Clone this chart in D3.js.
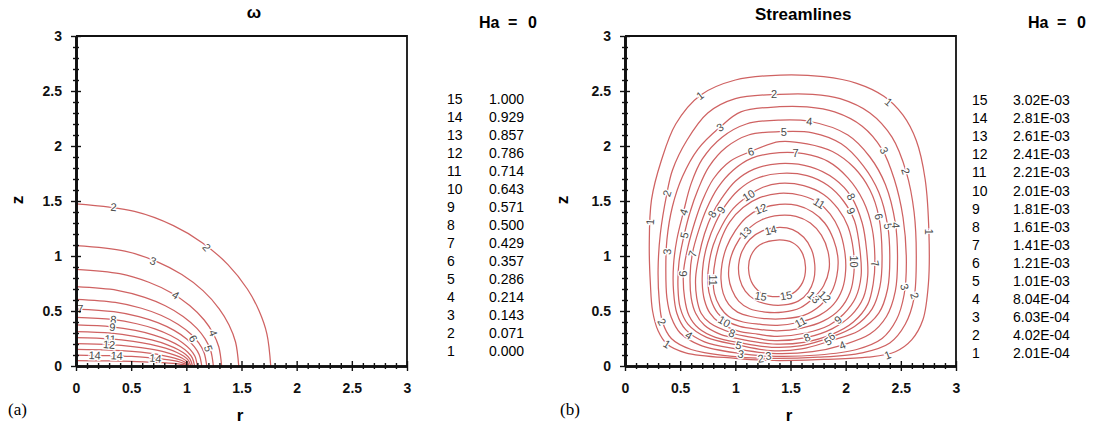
<!DOCTYPE html>
<html>
<head>
<meta charset="utf-8">
<script src="https://cdn.jsdelivr.net/npm/d3@7"></script>
<style>
  html, body { margin: 0; padding: 0; background: #fff; }
  svg { display: block; }
  text { font-family: Arial, "Liberation Sans", sans-serif; }
</style>
</head>
<body>
<svg id="fig" width="1093" height="426"></svg>
<script>
// ---- tick labels -------------------------------------------------------
const majorTicks = [0, 0.5, 1, 1.5, 2, 2.5, 3];

// ---- contour levels (legend tables) -------------------------------------
const levelIds = [15, 14, 13, 12, 11, 10, 9, 8, 7, 6, 5, 4, 3, 2, 1];
const omegaValues = ["1.000", "0.929", "0.857", "0.786", "0.714", "0.643", "0.571",
  "0.500", "0.429", "0.357", "0.286", "0.214", "0.143", "0.071", "0.000"];
const psiValues = ["3.02E-03", "2.81E-03", "2.61E-03", "2.41E-03", "2.21E-03", "2.01E-03",
  "1.81E-03", "1.61E-03", "1.41E-03", "1.21E-03", "1.01E-03", "8.04E-04", "6.03E-04",
  "4.02E-04", "2.01E-04"];

// ---- angular velocity contours, [r, z] from the axis to the disk plane --
const omegaLines = [
  { level: 2,  pts: [[0,1.473],[0.53,1.405],[0.883,1.276],[1.147,1.119],[1.377,0.922],[1.553,0.700],[1.659,0.502],[1.730,0.293],[1.765,0]] },
  { level: 3,  pts: [[0,1.094],[0.443,1.044],[0.738,0.947],[0.959,0.831],[1.151,0.685],[1.298,0.520],[1.387,0.373],[1.446,0.218],[1.475,0]] },
  { level: 4,  pts: [[0,0.879],[0.396,0.839],[0.66,0.761],[0.858,0.668],[1.03,0.550],[1.162,0.418],[1.241,0.300],[1.294,0.175],[1.32,0]] },
  { level: 5,  pts: [[0,0.721],[0.374,0.688],[0.623,0.624],[0.809,0.548],[0.971,0.451],[1.096,0.342],[1.170,0.246],[1.220,0.143],[1.245,0]] },
  { level: 6,  pts: [[0,0.606],[0.356,0.578],[0.593,0.525],[0.770,0.461],[0.924,0.379],[1.043,0.288],[1.114,0.207],[1.161,0.121],[1.185,0]] },
  { level: 7,  pts: [[0,0.518],[0.342,0.494],[0.57,0.449],[0.741,0.394],[0.889,0.324],[1.003,0.246],[1.072,0.177],[1.117,0.103],[1.14,0]] },
  { level: 8,  pts: [[0,0.443],[0.33,0.423],[0.55,0.384],[0.715,0.337],[0.858,0.277],[0.968,0.210],[1.034,0.151],[1.078,0.088],[1.10,0]] },
  { level: 9,  pts: [[0,0.373],[0.323,0.356],[0.538,0.323],[0.699,0.283],[0.839,0.233],[0.946,0.177],[1.011,0.127],[1.054,0.074],[1.075,0]] },
  { level: 10, pts: [[0,0.312],[0.317,0.298],[0.528,0.270],[0.686,0.237],[0.823,0.195],[0.928,0.148],[0.992,0.106],[1.034,0.062],[1.055,0]] },
  { level: 11, pts: [[0,0.258],[0.312,0.246],[0.52,0.223],[0.676,0.196],[0.811,0.162],[0.915,0.123],[0.978,0.088],[1.019,0.051],[1.04,0]] },
  { level: 12, pts: [[0,0.204],[0.308,0.195],[0.513,0.177],[0.666,0.155],[0.80,0.128],[0.902,0.097],[0.964,0.070],[1.005,0.041],[1.025,0]] },
  { level: 13, pts: [[0,0.152],[0.305,0.145],[0.508,0.132],[0.66,0.116],[0.792,0.095],[0.893,0.072],[0.954,0.052],[0.995,0.030],[1.015,0]] },
  { level: 14, pts: [[0,0.100],[0.302,0.095],[0.504,0.087],[0.655,0.076],[0.786,0.063],[0.887,0.048],[0.948,0.034],[0.988,0.020],[1.008,0]] },
  { level: 15, pts: [[0,0.048],[0.30,0.046],[0.50,0.042],[0.65,0.036],[0.78,0.030],[0.88,0.023],[0.94,0.016],[0.98,0.010],[1.0,0]] }
];

const omegaLabels = [
  { t: "2", r: 0.34, z: 1.445, a: 4 },   { t: "2", r: 1.185, z: 1.08, a: 50 },
  { t: "3", r: 0.70, z: 0.955, a: 18 },  { t: "4", r: 0.904, z: 0.645, a: 32 },
  { t: "4", r: 1.245, z: 0.30, a: 70 },  { t: "5", r: 1.20, z: 0.16, a: 72 },
  { t: "6", r: 1.063, z: 0.25, a: 58 },  { t: "7", r: 0.04, z: 0.518, a: 0 },
  { t: "8", r: 0.34, z: 0.422, a: 5 },   { t: "9", r: 0.33, z: 0.355, a: 5 },
  { t: "11", r: 0.31, z: 0.246, a: 4 },  { t: "12", r: 0.30, z: 0.195, a: 4 },
  { t: "14", r: 0.17, z: 0.098, a: 2 },  { t: "14", r: 0.37, z: 0.094, a: 3 },
  { t: "14", r: 0.72, z: 0.07, a: 6 }
];

// ---- streamlines, closed loops of [r, z] --------------------------------
const psiLines = [
  { level: 1,  pts: [[1.41,2.645],[1.0,2.60],[0.68,2.46],[0.46,2.20],[0.33,1.87],[0.24,1.51],[0.22,1.10],[0.23,0.75],[0.25,0.50],[0.30,0.32],[0.38,0.20],[0.55,0.12],[1.0,0.07],[1.35,0.05],[1.8,0.06],[2.2,0.08],[2.45,0.13],[2.60,0.24],[2.70,0.42],[2.75,0.75],[2.755,1.2],[2.72,1.7],[2.64,2.05],[2.52,2.28],[2.35,2.45],[2.1,2.57],[1.8,2.63]] },
  { level: 2,  pts: [[1.40,2.47],[1.0,2.43],[0.75,2.30],[0.56,2.05],[0.43,1.78],[0.38,1.57],[0.32,1.20],[0.30,0.88],[0.31,0.60],[0.34,0.40],[0.42,0.25],[0.60,0.15],[0.95,0.09],[1.25,0.07],[1.75,0.08],[2.15,0.12],[2.40,0.21],[2.54,0.38],[2.62,0.62],[2.64,1.0],[2.62,1.40],[2.55,1.76],[2.42,2.08],[2.22,2.30],[1.95,2.43],[1.70,2.47]] },
  { level: 3,  pts: [[1.40,2.357],[1.05,2.31],[0.86,2.17],[0.66,1.97],[0.52,1.72],[0.43,1.45],[0.38,1.15],[0.37,0.88],[0.38,0.62],[0.42,0.44],[0.50,0.30],[0.68,0.19],[1.03,0.115],[1.30,0.09],[1.75,0.10],[2.10,0.15],[2.33,0.25],[2.46,0.42],[2.53,0.65],[2.55,0.95],[2.52,1.35],[2.44,1.70],[2.33,1.97],[2.15,2.18],[1.90,2.31],[1.65,2.355]] },
  { level: 4,  pts: [[1.40,2.236],[1.10,2.20],[0.88,2.08],[0.70,1.88],[0.60,1.66],[0.53,1.40],[0.47,1.15],[0.44,0.92],[0.44,0.68],[0.47,0.48],[0.55,0.33],[0.72,0.22],[1.02,0.155],[1.32,0.115],[1.70,0.13],[1.97,0.19],[2.22,0.29],[2.37,0.45],[2.45,0.68],[2.47,0.98],[2.45,1.30],[2.36,1.65],[2.22,1.90],[2.02,2.10],[1.67,2.225]] },
  { level: 5,  pts: [[1.40,2.13],[1.12,2.10],[0.92,1.99],[0.76,1.81],[0.66,1.60],[0.59,1.40],[0.536,1.19],[0.49,0.95],[0.48,0.72],[0.50,0.53],[0.57,0.38],[0.74,0.26],[1.03,0.19],[1.32,0.14],[1.60,0.155],[1.85,0.225],[2.12,0.32],[2.30,0.48],[2.38,0.70],[2.40,0.98],[2.38,1.28],[2.30,1.58],[2.16,1.82],[1.96,2.02],[1.70,2.12]] },
  { level: 6,  pts: [[1.40,2.04],[1.14,1.95],[0.95,1.86],[0.80,1.70],[0.70,1.50],[0.63,1.30],[0.57,1.08],[0.53,0.85],[0.54,0.62],[0.58,0.46],[0.67,0.34],[0.82,0.26],[1.05,0.21],[1.33,0.17],[1.60,0.185],[1.86,0.26],[2.08,0.36],[2.24,0.52],[2.31,0.72],[2.33,0.98],[2.30,1.36],[2.22,1.60],[2.08,1.80],[1.88,1.95],[1.65,2.02]] },
  { level: 7,  pts: [[1.40,1.94],[1.15,1.89],[0.98,1.78],[0.84,1.62],[0.74,1.43],[0.67,1.24],[0.61,1.02],[0.59,0.82],[0.60,0.62],[0.64,0.48],[0.72,0.37],[0.86,0.29],[1.07,0.24],[1.34,0.20],[1.62,0.215],[1.88,0.29],[2.07,0.40],[2.20,0.56],[2.25,0.75],[2.265,0.95],[2.24,1.25],[2.16,1.50],[2.02,1.71],[1.84,1.86],[1.62,1.93]] },
  { level: 8,  pts: [[1.40,1.84],[1.17,1.79],[1.00,1.68],[0.88,1.53],[0.79,1.38],[0.72,1.20],[0.67,1.00],[0.64,0.80],[0.65,0.62],[0.69,0.48],[0.77,0.39],[0.97,0.30],[1.15,0.26],[1.36,0.23],[1.65,0.26],[1.88,0.34],[2.05,0.46],[2.16,0.62],[2.20,0.82],[2.19,1.05],[2.15,1.30],[2.05,1.54],[1.90,1.70],[1.68,1.81]] },
  { level: 9,  pts: [[1.40,1.75],[1.18,1.70],[1.03,1.60],[0.91,1.46],[0.82,1.30],[0.75,1.12],[0.71,0.94],[0.70,0.76],[0.72,0.60],[0.77,0.48],[0.86,0.39],[1.02,0.32],[1.20,0.29],[1.38,0.27],[1.64,0.30],[1.85,0.37],[1.98,0.47],[2.09,0.62],[2.14,0.82],[2.13,1.05],[2.08,1.32],[1.98,1.50],[1.84,1.64],[1.65,1.73]] },
  { level: 10, pts: [[1.40,1.66],[1.25,1.625],[1.12,1.55],[0.98,1.43],[0.88,1.28],[0.80,1.10],[0.76,0.92],[0.75,0.75],[0.78,0.60],[0.84,0.48],[0.92,0.41],[1.04,0.36],[1.20,0.335],[1.38,0.32],[1.60,0.345],[1.80,0.41],[1.95,0.52],[2.04,0.67],[2.075,0.85],[2.07,1.05],[2.02,1.27],[1.93,1.43],[1.80,1.56],[1.62,1.64]] },
  { level: 11, pts: [[1.40,1.57],[1.22,1.53],[1.07,1.44],[0.95,1.31],[0.87,1.15],[0.82,0.97],[0.80,0.80],[0.81,0.66],[0.86,0.54],[0.94,0.45],[1.07,0.40],[1.22,0.38],[1.38,0.37],[1.59,0.40],[1.76,0.46],[1.89,0.56],[1.97,0.70],[2.00,0.87],[1.99,1.05],[1.94,1.24],[1.86,1.38],[1.76,1.48],[1.60,1.55]] },
  { level: 12, pts: [[1.40,1.47],[1.23,1.43],[1.10,1.35],[1.00,1.23],[0.92,1.08],[0.88,0.93],[0.87,0.79],[0.89,0.66],[0.94,0.56],[1.02,0.49],[1.14,0.45],[1.28,0.43],[1.44,0.43],[1.62,0.46],[1.77,0.55],[1.87,0.67],[1.92,0.82],[1.93,0.98],[1.89,1.15],[1.81,1.30],[1.70,1.40],[1.56,1.46]] },
  { level: 13, pts: [[1.40,1.37],[1.24,1.33],[1.09,1.22],[1.00,1.09],[0.95,0.95],[0.94,0.81],[0.97,0.69],[1.03,0.59],[1.13,0.52],[1.27,0.49],[1.43,0.49],[1.59,0.53],[1.71,0.62],[1.80,0.73],[1.85,0.88],[1.84,1.04],[1.78,1.19],[1.68,1.30],[1.55,1.36]] },
  { level: 14, pts: [[1.40,1.26],[1.25,1.23],[1.13,1.15],[1.06,1.04],[1.03,0.92],[1.04,0.79],[1.09,0.68],[1.18,0.60],[1.30,0.56],[1.44,0.555],[1.57,0.59],[1.66,0.67],[1.71,0.78],[1.72,0.92],[1.69,1.06],[1.62,1.17],[1.52,1.24]] },
  { level: 15, pts: [[1.38,1.145],[1.22,1.10],[1.14,1.0],[1.12,0.88],[1.16,0.74],[1.26,0.65],[1.38,0.63],[1.52,0.66],[1.61,0.76],[1.636,0.90],[1.60,1.04],[1.52,1.12]] }
];

const psiLabels = [
  { t: "1", r: 0.68, z: 2.46, a: -38 },  { t: "2", r: 1.35, z: 2.47, a: 0 },
  { t: "1", r: 2.39, z: 2.40, a: 40 },   { t: "3", r: 0.86, z: 2.17, a: -32 },
  { t: "4", r: 1.67, z: 2.225, a: 4 },   { t: "5", r: 1.44, z: 2.13, a: 0 },
  { t: "6", r: 1.14, z: 1.95, a: -16 },  { t: "7", r: 1.545, z: 1.94, a: 0 },
  { t: "3", r: 2.35, z: 1.96, a: 62 },   { t: "2", r: 2.545, z: 1.77, a: 72 },
  { t: "2", r: 0.38, z: 1.57, a: -72 },  { t: "4", r: 0.53, z: 1.40, a: -70 },
  { t: "8", r: 0.79, z: 1.38, a: -60 },  { t: "9", r: 0.87, z: 1.42, a: -58 },
  { t: "10", r: 1.12, z: 1.55, a: -32 }, { t: "12", r: 1.23, z: 1.43, a: -22 },
  { t: "11", r: 1.76, z: 1.48, a: 32 },  { t: "8", r: 2.05, z: 1.54, a: 62 },
  { t: "9", r: 2.05, z: 1.41, a: 66 },   { t: "6", r: 2.30, z: 1.36, a: 76 },
  { t: "5", r: 2.385, z: 1.27, a: 82 },  { t: "4", r: 2.455, z: 1.28, a: 86 },
  { t: "1", r: 0.227, z: 1.31, a: -86 }, { t: "5", r: 0.536, z: 1.19, a: -78 },
  { t: "3", r: 0.38, z: 1.04, a: -86 },  { t: "7", r: 0.61, z: 1.02, a: -72 },
  { t: "6", r: 0.53, z: 0.84, a: -90 },  { t: "13", r: 1.09, z: 1.21, a: -48 },
  { t: "14", r: 1.32, z: 1.235, a: -14 },{ t: "11", r: 0.80, z: 0.78, a: 90 },
  { t: "15", r: 1.23, z: 0.635, a: 10 }, { t: "15", r: 1.46, z: 0.64, a: -10 },
  { t: "13", r: 1.71, z: 0.625, a: 42 }, { t: "12", r: 1.81, z: 0.63, a: 44 },
  { t: "10", r: 2.072, z: 0.95, a: 90 }, { t: "7", r: 2.265, z: 0.93, a: 78 },
  { t: "1", r: 2.755, z: 1.22, a: 90 },  { t: "3", r: 2.535, z: 0.72, a: 74 },
  { t: "2", r: 2.625, z: 0.64, a: 72 },  { t: "2", r: 0.335, z: 0.40, a: 60 },
  { t: "1", r: 0.38, z: 0.20, a: 32 },   { t: "4", r: 0.58, z: 0.28, a: 32 },
  { t: "10", r: 0.90, z: 0.405, a: 30 }, { t: "8", r: 0.97, z: 0.30, a: 20 },
  { t: "5", r: 1.03, z: 0.19, a: 14 },   { t: "3", r: 1.05, z: 0.11, a: 12 },
  { t: "2", r: 1.23, z: 0.07, a: -8 },   { t: "3", r: 1.30, z: 0.092, a: -5 },
  { t: "11", r: 1.59, z: 0.40, a: -28 }, { t: "8", r: 1.65, z: 0.26, a: -24 },
  { t: "9", r: 1.93, z: 0.42, a: -40 },  { t: "6", r: 1.87, z: 0.27, a: -40 },
  { t: "5", r: 1.84, z: 0.225, a: -36 }, { t: "4", r: 1.97, z: 0.19, a: -22 },
  { t: "1", r: 2.38, z: 0.10, a: -22 }
];

// ---- drawing ------------------------------------------------------------
const svg = d3.select("#fig");
const lineColor = "#cf6262";

function drawPanel(cfg) {
  const x = d3.scaleLinear().domain([0, 3]).range([cfg.left, cfg.left + 331]);
  const y = d3.scaleLinear().domain([0, 3]).range([366, 36]);
  const g = svg.append("g");

  const clipId = "clip-" + cfg.key;
  svg.append("clipPath").attr("id", clipId)
    .append("rect").attr("x", x(0)).attr("y", y(3))
    .attr("width", x(3) - x(0)).attr("height", y(0) - y(3));

  // contour lines
  const line = d3.line().x(d => x(d[0])).y(d => y(d[1]))
    .curve(cfg.closed ? d3.curveCatmullRomClosed.alpha(0.5) : d3.curveCatmullRom.alpha(0.5));
  g.append("g").attr("clip-path", `url(#${clipId})`)
    .selectAll("path").data(cfg.lines).join("path")
    .attr("d", d => line(d.pts))
    .attr("fill", "none").attr("stroke", lineColor).attr("stroke-width", 1.25);

  // contour labels
  g.append("g").selectAll("text").data(cfg.labels).join("text")
    .attr("transform", d => `translate(${x(d.r)},${y(d.z)}) rotate(${d.a})`)
    .attr("text-anchor", "middle").attr("dy", "0.36em")
    .attr("font-size", 11).attr("fill", "#4a4a4a")
    .attr("stroke", "#fff").attr("stroke-width", 2.6).attr("paint-order", "stroke")
    .text(d => d.t);

  // frame: top and right edges
  g.append("path")
    .attr("d", `M${x(0)},${y(3)}H${x(3)}V${y(0)}`)
    .attr("fill", "none").attr("stroke", "#111").attr("stroke-width", 1.8);

  const minor = d3.range(0, 3.0001, 0.1).filter(v => Math.abs(v * 2 - Math.round(v * 2)) > 1e-6);

  // x axis: major and minor ticks both cross the axis line
  const gx = g.append("g").attr("transform", `translate(0,${y(0)})`);
  gx.append("g").call(d3.axisBottom(x).tickValues(majorTicks).tickFormat(d3.format("")).tickSizeInner(5).tickSizeOuter(0).tickPadding(12));
  gx.append("g").call(d3.axisTop(x).tickValues(majorTicks).tickFormat("").tickSizeInner(5).tickSizeOuter(0));
  gx.append("g").call(d3.axisBottom(x).tickValues(minor).tickFormat("").tickSizeInner(3).tickSizeOuter(0));
  gx.append("g").call(d3.axisTop(x).tickValues(minor).tickFormat("").tickSizeInner(3).tickSizeOuter(0));

  const gy = g.append("g").attr("transform", `translate(${x(0)},0)`);
  gy.append("g").call(d3.axisLeft(y).tickValues(majorTicks).tickFormat(d3.format("")).tickSizeInner(5).tickSizeOuter(0).tickPadding(9));
  gy.append("g").call(d3.axisRight(y).tickValues(majorTicks).tickFormat("").tickSizeInner(5).tickSizeOuter(0));
  gy.append("g").call(d3.axisLeft(y).tickValues(minor).tickFormat("").tickSizeInner(3).tickSizeOuter(0));
  gy.append("g").call(d3.axisRight(y).tickValues(minor).tickFormat("").tickSizeInner(3).tickSizeOuter(0));

  g.selectAll(".domain").attr("stroke", "#111").attr("stroke-width", 2.2);
  g.selectAll(".tick line").attr("stroke", "#111").attr("stroke-width", 1.4);
  g.selectAll(".tick text").attr("font-family", "Arial, 'Liberation Sans', sans-serif")
    .attr("font-size", 14).attr("font-weight", "bold").attr("fill", "#111");

  // axis titles
  g.append("text").attr("x", cfg.left + 164).attr("y", 421)
    .attr("text-anchor", "middle").attr("font-size", 17).attr("font-weight", "bold").text("r");
  g.append("text").attr("transform", `translate(${cfg.zx},200) rotate(-90)`)
    .attr("text-anchor", "middle").attr("dy", "0.35em")
    .attr("font-size", 17).attr("font-weight", "bold").text("z");

  // panel tag (serif)
  g.append("text").attr("x", cfg.tagX).attr("y", 415)
    .style("font-family", "'Liberation Serif', 'DejaVu Serif', serif")
    .attr("font-size", 17).text(cfg.tag);

  // title
  g.append("text").attr("x", cfg.titleX).attr("y", cfg.titleY)
    .attr("text-anchor", cfg.titleAnchor).attr("font-size", 17).attr("font-weight", "bold")
    .text(cfg.title);

  // Ha label
  g.append("text").attr("x", cfg.haX).attr("y", 28).attr("font-size", 16).attr("font-weight", "bold").text("Ha");
  g.append("text").attr("x", cfg.haX + 29).attr("y", 28).attr("font-size", 16).attr("font-weight", "bold").text("=");
  g.append("text").attr("x", cfg.haX + cfg.zeroDx).attr("y", 28).attr("font-size", 16).attr("font-weight", "bold").text("0");

  // level table
  const rows = g.append("g").selectAll("g").data(levelIds).join("g")
    .attr("transform", (d, i) => `translate(0,${cfg.legTop + i * cfg.legStep})`);
  rows.append("text").attr("x", cfg.legNumX).attr("dy", "0.36em").attr("font-size", 14).text(d => d);
  rows.append("text").attr("x", cfg.legValX).attr("dy", "0.36em").attr("font-size", 14)
    .text((d, i) => cfg.values[i]);
}

drawPanel({
  key: "omega", left: 76, closed: false, lines: omegaLines, labels: omegaLabels,
  zx: 17, tag: "(a)", tagX: 8, title: "\u03c9", titleX: 254, titleY: 18, titleAnchor: "middle",
  haX: 479, zeroDx: 49, legTop: 99, legStep: 18, legNumX: 447, legValX: 489, values: omegaValues
});

drawPanel({
  key: "psi", left: 625, closed: true, lines: psiLines, labels: psiLabels,
  zx: 562, tag: "(b)", tagX: 560, title: "Streamlines", titleX: 755, titleY: 20, titleAnchor: "start",
  haX: 1028, zeroDx: 49, legTop: 100, legStep: 18.1, legNumX: 972, legValX: 1013, values: psiValues
});
</script>
</body>
</html>
